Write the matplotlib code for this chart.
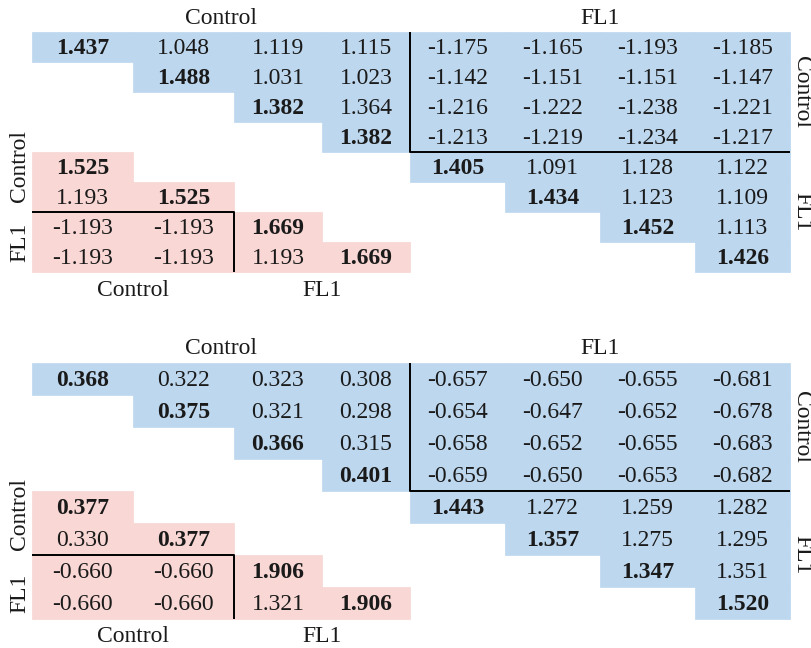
import matplotlib
matplotlib.use("Agg")
import matplotlib.pyplot as plt
from matplotlib.patches import Rectangle

# group names
groups = ["Control", "FL1"]

# panel 1: Control rows (vs Control then FL1), FL1 rows (vs FL1), lower block
top_ctrl_rows = [
    [1.437, 1.048, 1.119, 1.115, -1.175, -1.165, -1.193, -1.185],
    [1.488, 1.031, 1.023, -1.142, -1.151, -1.151, -1.147],
    [1.382, 1.364, -1.216, -1.222, -1.238, -1.221],
    [1.382, -1.213, -1.219, -1.234, -1.217],
]
top_fl1_rows = [
    [1.405, 1.091, 1.128, 1.122],
    [1.434, 1.123, 1.109],
    [1.452, 1.113],
    [1.426],
]
top_lower_rows = [
    [1.525],
    [1.193, 1.525],
    [-1.193, -1.193, 1.669],
    [-1.193, -1.193, 1.193, 1.669],
]

# panel 2
bot_ctrl_rows = [
    [0.368, 0.322, 0.323, 0.308, -0.657, -0.650, -0.655, -0.681],
    [0.375, 0.321, 0.298, -0.654, -0.647, -0.652, -0.678],
    [0.366, 0.315, -0.658, -0.652, -0.655, -0.683],
    [0.401, -0.659, -0.650, -0.653, -0.682],
]
bot_fl1_rows = [
    [1.443, 1.272, 1.259, 1.282],
    [1.357, 1.275, 1.295],
    [1.347, 1.351],
    [1.520],
]
bot_lower_rows = [
    [0.377],
    [0.330, 0.377],
    [-0.660, -0.660, 1.906],
    [-0.660, -0.660, 1.321, 1.906],
]

BLUE = "#bdd7ee"
PINK = "#f8d7d4"
INK = "#1a1a1a"
FONT = "Liberation Serif"
FS = 17

# column edges (px) shared by both panels
col_edges = [32, 133, 234, 322, 410, 505, 600, 695, 790]

fig = plt.figure(figsize=(8.12, 6.48), dpi=100)
ax = fig.add_axes([0, 0, 1, 1])
ax.set_xlim(0, 812)
ax.set_ylim(648, 0)
ax.axis("off")


def cell(r, c, val, color, y0, rh, bold):
    x0, x1 = col_edges[c], col_edges[c + 1]
    top = y0 + r * rh
    ax.add_patch(Rectangle((x0, top), x1 - x0, rh, facecolor=color,
                           edgecolor=color, lw=0.5))
    ax.text((x0 + x1) / 2, top + rh / 2 + 1, f"{val:.3f}", ha="center",
            va="center", fontsize=FS, family=FONT, color=INK,
            fontweight="bold" if bold else "normal")


def draw_panel(ctrl_rows, fl1_rows, lower_rows, y0, rh, left_y):
    for i, row in enumerate(ctrl_rows):
        for j, v in enumerate(row):
            cell(i, i + j, v, BLUE, y0, rh, j == 0)
    for i, row in enumerate(fl1_rows):
        for j, v in enumerate(row):
            cell(4 + i, 4 + i + j, v, BLUE, y0, rh, j == 0)
    for i, row in enumerate(lower_rows):
        for j, v in enumerate(row):
            cell(4 + i, j, v, PINK, y0, rh, j == i)

    mid = col_edges[4]
    y4 = y0 + 4 * rh
    y6 = y0 + 6 * rh
    y8 = y0 + 8 * rh
    lk = dict(color="black", lw=1.4, solid_capstyle="butt")
    ax.plot([mid, mid, col_edges[8]], [y0, y4, y4], **lk)
    ax.plot([col_edges[0], col_edges[2], col_edges[2]], [y6, y6, y8], **lk)

    tk = dict(fontsize=FS, family=FONT, color=INK, ha="center", va="center")
    ax.text((col_edges[0] + mid) / 2, y0 - 14, groups[0], **tk)
    ax.text((mid + col_edges[8]) / 2, y0 - 14, groups[1], **tk)
    ax.text(802, y0 + 2 * rh, groups[0], rotation=-90, **tk)
    ax.text(802, y0 + 6 * rh, groups[1], rotation=-90, **tk)
    # left labels sit a little above their row pairs
    ax.text(20, left_y[0], groups[0], rotation=90, **tk)
    ax.text(20, left_y[1], groups[1], rotation=90, **tk)
    ax.text((col_edges[0] + col_edges[2]) / 2, y8 + 18, groups[0], **tk)
    ax.text((col_edges[2] + mid) / 2, y8 + 18, groups[1], **tk)


draw_panel(top_ctrl_rows, top_fl1_rows, top_lower_rows, 32, 30, (166, 242))
draw_panel(bot_ctrl_rows, bot_fl1_rows, bot_lower_rows, 363, 32, (514, 593))

fig.savefig("out.png", dpi=100, facecolor="white")
